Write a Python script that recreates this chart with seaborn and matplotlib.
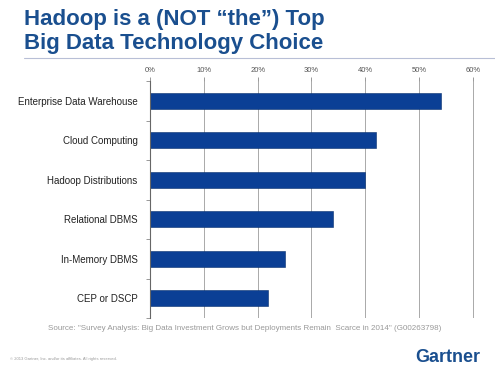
import numpy as np
import pandas as pd

import seaborn as sns
import matplotlib.pyplot as plt
from matplotlib.ticker import FixedLocator, PercentFormatter

# data
categories = ['Enterprise Data Warehouse', 'Cloud Computing',
              'Hadoop Distributions', 'Relational DBMS',
              'In-Memory DBMS', 'CEP or DSCP']
shares = [54, 42, 40, 34, 25, 22]
x_ticks = [0, 10, 20, 30, 40, 50, 60]

title_lines = ['Hadoop is a (NOT \u201cthe\u201d) Top',
               'Big Data Technology Choice']
source = ('Source: "Survey Analysis: Big Data Investment Grows but Deployments '
          'Remain  Scarce in 2014" (G00263798)')
copyright_note = '\u00a9 2013 Gartner, Inc. and/or its affiliates. All rights reserved.'

df = pd.DataFrame({'category': categories, 'share': shares})

sns.set_style('white')
plt.rcParams['font.family'] = ['Liberation Sans', 'DejaVu Sans']

fig = plt.figure(figsize=(4.95, 3.76), dpi=100)
fig.patch.set_facecolor('white')

# title block
title_color = '#1a4f8f'
fig.text(24 / 495, 1 - 19 / 376, title_lines[0], fontsize=16,
         fontweight='bold', color=title_color, va='center', ha='left')
fig.text(24 / 495, 1 - 43 / 376, title_lines[1], fontsize=16,
         fontweight='bold', color=title_color, va='center', ha='left')
fig.add_artist(plt.Line2D([24 / 495, 1.0], [1 - 58 / 376, 1 - 58 / 376],
                          transform=fig.transFigure, color='#b8bfd6', lw=0.8))

# chart
ax = fig.add_axes([150 / 495, 1 - 318 / 376, 324 / 495, 237 / 376])
sns.barplot(data=df, x='share', y='category', orient='h', color='#0b3f95',
            width=0.41, saturation=1, ax=ax, edgecolor='#07306f', linewidth=0.4)

ax.set_xlim(0, 60.2)
ax.set_ylim(5.5, -0.5)
ax.set_xticks(x_ticks)
ax.xaxis.set_major_formatter(PercentFormatter(decimals=0))
ax.xaxis.tick_top()
ax.xaxis.set_label_position('top')
ax.tick_params(axis='x', length=3, width=0.6, color='#888888', labelsize=5.5,
               labelcolor='#555555', pad=2)
ax.grid(axis='x', color='#a9a9a9', lw=0.7)
ax.set_axisbelow(True)

ax.yaxis.set_minor_locator(FixedLocator(np.arange(-0.5, 6.0, 1.0)))
ax.tick_params(axis='y', which='major', length=0, labelsize=7,
               labelcolor='#222222', pad=9)
ax.tick_params(axis='y', which='minor', length=3, width=0.6, color='#888888',
               left=True)
ax.set_xlabel('')
ax.set_ylabel('')

for side in ['top', 'right', 'bottom']:
    ax.spines[side].set_visible(False)
ax.spines['left'].set_color('#666666')
ax.spines['left'].set_linewidth(0.8)

# footer
fig.text(245 / 495, 1 - 328 / 376, source, fontsize=5.8, color='#999999',
         ha='center', va='center')
fig.text(10 / 495, 1 - 359 / 376, copyright_note, fontsize=3, color='#9a9a9a',
         ha='left', va='center')
fig.text(480 / 495, 1 - 357 / 376, 'Gartner', fontsize=13, fontweight='bold',
         color='#1a4f8f', ha='right', va='center')

fig.savefig('out.png', dpi=100, facecolor='white')
